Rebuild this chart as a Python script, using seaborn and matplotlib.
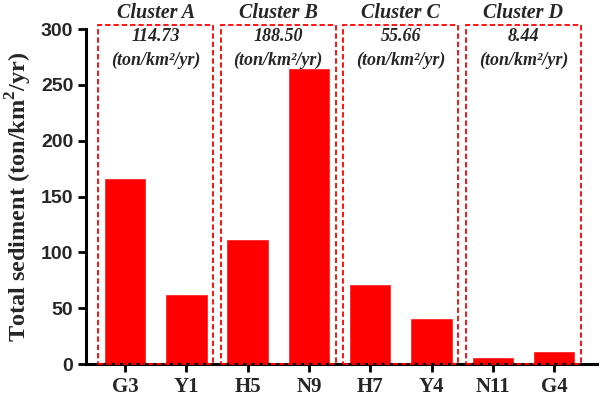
import seaborn as sns
import pandas as pd
from matplotlib import pyplot as plt
from matplotlib.patches import Rectangle

sites = ["G3", "Y1", "H5", "N9", "H7", "Y4", "N11", "G4"]
sediment = [166, 62, 111, 264, 70.5, 40, 5.4, 11.3]
cluster_names = ["Cluster A", "Cluster B", "Cluster C", "Cluster D"]
cluster_means = ["114.73", "188.50", "55.66", "8.44"]

df = pd.DataFrame({"site": sites, "sediment": sediment})

sns.set_style("ticks")
serif = ["Liberation Serif", "DejaVu Serif"]
sans = ["Liberation Sans", "DejaVu Sans"]
plt.rcParams["mathtext.fontset"] = "custom"
plt.rcParams["mathtext.bf"] = "Liberation Serif:bold"
plt.rcParams["mathtext.rm"] = "Liberation Serif:bold"

fig = plt.figure(figsize=(6, 3.98), dpi=100)
ax = fig.add_axes([0.143, 0.085, 0.852, 0.842])

sns.barplot(data=df, x="site", y="sediment", color="#ff0000", saturation=1,
            width=0.66, edgecolor="#ff2a2a", linewidth=0.6, ax=ax)

ax.set_xlim(-0.64, 7.70)
ax.set_ylim(0, 300)
ax.set_yticks([0, 50, 100, 150, 200, 250, 300])

# dashed boxes around each pair of sites
for i, (name, mean) in enumerate(zip(cluster_names, cluster_means)):
    cx = 2 * i + 0.5
    ax.add_patch(Rectangle((cx - 0.94, 0), 1.88, 303.6, fill=False,
                           edgecolor="#ff0000", linestyle=(0, (3, 1.6)),
                           linewidth=1.3, clip_on=False, zorder=3))
    ax.text(cx, 314, name, ha="center", va="center", fontsize=14.5,
            fontweight="bold", style="italic", family=serif)
    ax.text(cx, 293, mean, ha="center", va="center", fontsize=13,
            fontweight="bold", style="italic", family=serif)
    ax.text(cx, 272, "(ton/km²/yr)", ha="center", va="center",
            fontsize=13, fontweight="bold", style="italic", family=serif)

ax.set_xlabel(None)
ax.set_ylabel("Total sediment (ton/km$^\\mathbf{2}$/yr)", fontsize=17.5,
              fontweight="bold", family=serif, labelpad=5)

for lab in ax.get_xticklabels():
    lab.set_family(serif)
    lab.set_fontweight("bold")
    lab.set_fontsize(15)
for lab in ax.get_yticklabels():
    lab.set_family(sans)
    lab.set_fontweight("bold")
    lab.set_fontsize(14)

ax.tick_params(axis="both", direction="out", length=6, width=2, color="black", pad=3)
for side in ["left", "bottom"]:
    ax.spines[side].set_linewidth(2.2)
    ax.spines[side].set_color("black")
sns.despine(ax=ax)

plt.savefig("out.png", dpi=100)
